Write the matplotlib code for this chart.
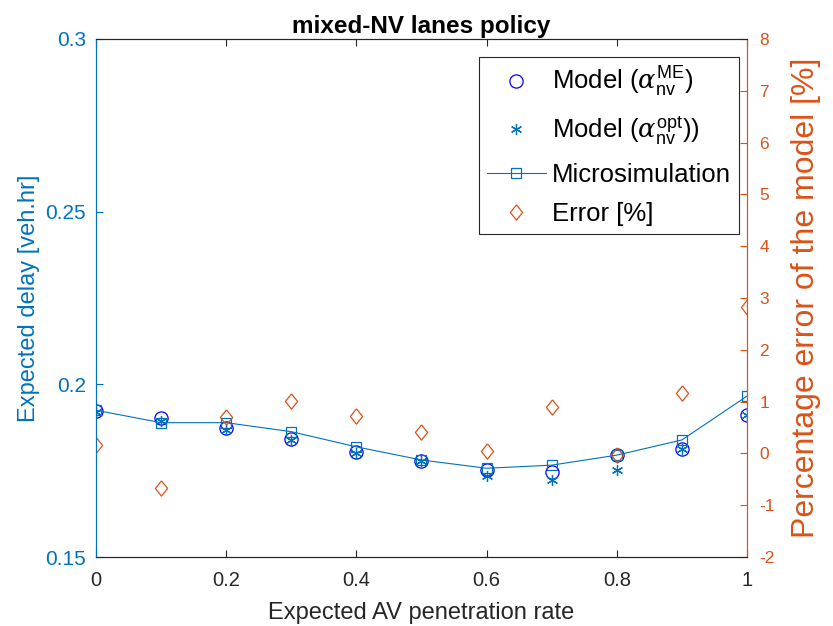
import numpy as np
import matplotlib.pyplot as plt

plt.rcParams['font.family'] = ['Liberation Sans', 'DejaVu Sans']
plt.rcParams['mathtext.fontset'] = 'custom'
plt.rcParams['mathtext.rm'] = 'Liberation Sans'
plt.rcParams['mathtext.it'] = 'DejaVu Serif:italic'
plt.rcParams['axes.unicode_minus'] = False

# data
penetration = [0, 0.1, 0.2, 0.3, 0.4, 0.5, 0.6, 0.7, 0.8, 0.9, 1.0]
model_me = [0.1924, 0.1902, 0.1873, 0.1841, 0.1805, 0.1778, 0.1752, 0.1747, 0.1795, 0.1814, 0.1911]
model_opt = [0.1920, 0.1895, 0.1868, 0.1840, 0.1800, 0.1778, 0.1734, 0.1723, 0.1752, 0.1814, 0.1911]
microsim = [0.1925, 0.1889, 0.1889, 0.1863, 0.1819, 0.1781, 0.1757, 0.1766, 0.1795, 0.1839, 0.1966]
error_pct = [0.16, -0.67, 0.70, 1.02, 0.73, 0.41, 0.05, 0.89, -0.03, 1.16, 2.83]

x_ticks = [0, 0.2, 0.4, 0.6, 0.8, 1]
x_ticklabels = ['0', '0.2', '0.4', '0.6', '0.8', '1']
y_ticks = [0.15, 0.2, 0.25, 0.3]
y_ticklabels = ['0.15', '0.2', '0.25', '0.3']

blue = '#0072BD'
orange = '#D95319'
grey = '#262626'

# matlab style diamond (a bit narrower than tall)
diamond = [(0, 1), (0.8, 0), (0, -1), (-0.8, 0), (0, 1)]

fig = plt.figure(figsize=(8.33, 6.26), dpi=100)
ax = fig.add_axes([0.1152, 0.1102, 0.7816, 0.8275])
ax2 = ax.twinx()

h1, = ax.plot(penetration, model_me, 'o', color='blue', mfc='none', ms=9.5, mew=0.9,
              label='Model ($\\mathit{\\alpha}^{\\rm ME}_{\\rm nv}$)')
h2, = ax.plot(penetration, model_opt, linestyle='none', marker=(6, 2, 0), color=blue, ms=8, mew=0.9,
              label='Model ($\\mathit{\\alpha}^{\\rm opt}_{\\rm nv}$))')
h3, = ax.plot(penetration, microsim, '-s', color=blue, mfc='none', ms=6.5, lw=0.8, mew=0.9,
              label='Microsimulation')
h4, = ax2.plot(penetration, error_pct, linestyle='none', marker=diamond, color=orange, mfc='none',
               ms=11, mew=0.9, label='Error [%]')

ax.set_xlim(0, 1)
ax.set_ylim(0.15, 0.3)
ax2.set_ylim(-2, 8)
ax.set_xticks(x_ticks)
ax.set_xticklabels(x_ticklabels)
ax.set_yticks(y_ticks)
ax.set_yticklabels(y_ticklabels)
ax2.set_yticks(range(-2, 9))

ax.tick_params(axis='x', direction='in', top=True, labelsize=14.5, colors=grey, length=5, pad=10)
ax.tick_params(axis='y', direction='in', labelsize=15, colors=blue, length=5, pad=7)
ax2.tick_params(axis='y', direction='in', labelsize=12.5, colors=orange, length=5, pad=9)

for a in (ax, ax2):
    a.spines['left'].set_color(blue)
    a.spines['right'].set_color(orange)
    a.spines['top'].set_color(grey)
    a.spines['bottom'].set_color(grey)
    for s in a.spines.values():
        s.set_linewidth(0.8)

ax.set_xlabel('Expected AV penetration rate', fontsize=17, color=grey, labelpad=9)
ax.set_ylabel('Expected delay [veh.hr]', fontsize=17, color=blue, labelpad=4)
ax2.set_ylabel('Percentage error of the model [%]', fontsize=23, color=orange)
ax2.yaxis.set_label_coords(1.067, 0.5)
ax.set_title('mixed-NV lanes policy', fontsize=17.5, fontweight='bold', pad=4)

leg = ax2.legend(handles=[h1, h2, h3, h4], loc='upper right', bbox_to_anchor=(0.9875, 0.965),
                 borderaxespad=0, fontsize=18.5, fancybox=False, edgecolor=grey,
                 handlelength=2.3, handletextpad=0.25, borderpad=0.3, labelspacing=0.6,
                 framealpha=1)
leg.get_frame().set_linewidth(0.8)

fig.savefig('out.png', dpi=100)
